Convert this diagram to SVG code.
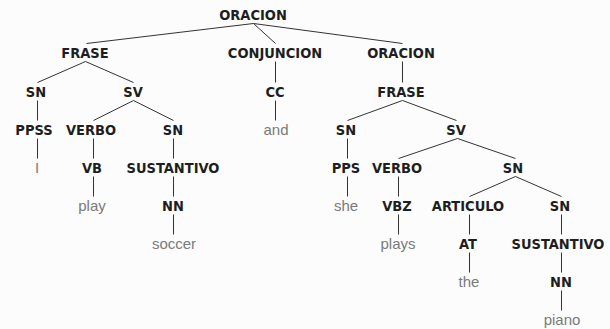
<svg xmlns="http://www.w3.org/2000/svg" width="610" height="329" viewBox="0 0 610 329">
<style>
.n{font-family:"DejaVu Sans Condensed","Liberation Sans",Arial,sans-serif;font-size:14.5px;font-weight:bold;fill:#1e1e1e;text-anchor:middle}
.w{font-family:"Liberation Sans",Arial,sans-serif;font-size:15px;fill:#7a7a7a;text-anchor:middle}
#edges line{stroke:#333;stroke-width:1}
</style>
<rect width="610" height="329" fill="#fcfcfc"/>
<g id="edges">
<line x1="253.5" y1="23.5" x2="86.5" y2="43.5"/>
<line x1="253.5" y1="23.5" x2="275.5" y2="43.5"/>
<line x1="253.5" y1="23.5" x2="402.5" y2="43.5"/>
<line x1="85.5" y1="61.5" x2="37.5" y2="82.5"/>
<line x1="85.5" y1="61.5" x2="133.5" y2="82.5"/>
<line x1="275.5" y1="61.5" x2="275.5" y2="82.5"/>
<line x1="402.5" y1="61.5" x2="402.5" y2="82.5"/>
<line x1="37.5" y1="100.5" x2="37.5" y2="120.5"/>
<line x1="133.5" y1="100.5" x2="93.5" y2="120.5"/>
<line x1="133.5" y1="100.5" x2="173.5" y2="120.5"/>
<line x1="275.5" y1="100.5" x2="275.5" y2="120.5"/>
<line x1="402.5" y1="100.5" x2="347.5" y2="120.5"/>
<line x1="402.5" y1="100.5" x2="456.5" y2="120.5"/>
<line x1="37.5" y1="138.5" x2="37.5" y2="158.5"/>
<line x1="93.5" y1="138.5" x2="93.5" y2="158.5"/>
<line x1="173.5" y1="138.5" x2="173.5" y2="158.5"/>
<line x1="347.5" y1="138.5" x2="347.5" y2="158.5"/>
<line x1="457.5" y1="138.5" x2="398.5" y2="158.5"/>
<line x1="457.5" y1="138.5" x2="515.5" y2="158.5"/>
<line x1="93.5" y1="176.5" x2="93.5" y2="196.5"/>
<line x1="173.5" y1="176.5" x2="173.5" y2="196.5"/>
<line x1="347.5" y1="176.5" x2="347.5" y2="196.5"/>
<line x1="398.5" y1="176.5" x2="398.5" y2="196.5"/>
<line x1="515.5" y1="176.5" x2="469.5" y2="196.5"/>
<line x1="515.5" y1="176.5" x2="561.5" y2="196.5"/>
<line x1="173.5" y1="214.5" x2="173.5" y2="234.5"/>
<line x1="398.5" y1="214.5" x2="398.5" y2="234.5"/>
<line x1="469.5" y1="214.5" x2="469.5" y2="234.5"/>
<line x1="561.5" y1="214.5" x2="561.5" y2="234.5"/>
<line x1="469.5" y1="252.5" x2="469.5" y2="272.5"/>
<line x1="561.5" y1="252.5" x2="561.5" y2="272.5"/>
<line x1="561.5" y1="290.5" x2="561.5" y2="310.5"/>
</g>
<g id="n-oracion"><text class="n" x="253" y="20">ORACION</text></g>
<g id="n-frase1"><text class="n" x="85" y="58">FRASE</text></g>
<g id="n-conjuncion"><text class="n" x="275" y="58">CONJUNCION</text></g>
<g id="n-oracion2"><text class="n" x="401" y="58">ORACION</text></g>
<g id="n-sn1"><text class="n" x="36" y="97">SN</text></g>
<g id="n-sv1"><text class="n" x="133" y="97">SV</text></g>
<g id="n-cc"><text class="n" x="275" y="97">CC</text></g>
<g id="n-frase2"><text class="n" x="401" y="97">FRASE</text></g>
<g id="n-ppss"><text class="n" x="34" y="135">PPSS</text></g>
<g id="n-verbo1"><text class="n" x="91" y="135">VERBO</text></g>
<g id="n-sn2"><text class="n" x="173" y="135">SN</text></g>
<g id="n-and"><text class="w" x="276" y="135">and</text></g>
<g id="n-sn3"><text class="n" x="346" y="135">SN</text></g>
<g id="n-sv2"><text class="n" x="456" y="135">SV</text></g>
<g id="n-i"><text class="w" x="37" y="173">I</text></g>
<g id="n-vb"><text class="n" x="92" y="173">VB</text></g>
<g id="n-sustantivo1"><text class="n" x="173" y="173">SUSTANTIVO</text></g>
<g id="n-pps"><text class="n" x="346" y="173">PPS</text></g>
<g id="n-verbo2"><text class="n" x="397" y="173">VERBO</text></g>
<g id="n-sn4"><text class="n" x="513" y="173">SN</text></g>
<g id="n-play"><text class="w" x="92" y="211">play</text></g>
<g id="n-nn1"><text class="n" x="173" y="211">NN</text></g>
<g id="n-she"><text class="w" x="346" y="211">she</text></g>
<g id="n-vbz"><text class="n" x="397" y="211">VBZ</text></g>
<g id="n-articulo"><text class="n" x="468" y="211">ARTICULO</text></g>
<g id="n-sn5"><text class="n" x="560" y="211">SN</text></g>
<g id="n-soccer"><text class="w" x="174" y="249">soccer</text></g>
<g id="n-plays"><text class="w" x="398" y="249">plays</text></g>
<g id="n-at"><text class="n" x="468" y="249">AT</text></g>
<g id="n-sustantivo2"><text class="n" x="558" y="249">SUSTANTIVO</text></g>
<g id="n-the"><text class="w" x="469" y="287">the</text></g>
<g id="n-nn2"><text class="n" x="561" y="287">NN</text></g>
<g id="n-piano"><text class="w" x="562" y="325">piano</text></g>
</svg>
